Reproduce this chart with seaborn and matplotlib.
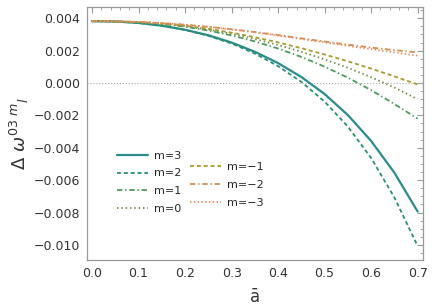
import numpy as np
import pandas as pd
import seaborn as sns
import matplotlib.pyplot as plt
from matplotlib.lines import Line2D
from matplotlib.ticker import MultipleLocator

sns.set_style("white")
plt.rcParams['font.family'] = ['DejaVu Sans']
plt.rcParams['mathtext.fontset'] = 'dejavusans'

# spin parameter a-bar
a_bar = [0.0, 0.05, 0.10, 0.15, 0.20, 0.25, 0.30, 0.35, 0.40, 0.45, 0.50, 0.55, 0.60, 0.65, 0.70]

# Delta omega values (x 1e-3)
dw_m3 = [3.82, 3.80, 3.71, 3.54, 3.29, 2.95, 2.50, 1.93, 1.23, 0.37, -0.68, -1.98, -3.58, -5.54, -7.94]
dw_m2 = [3.82, 3.80, 3.71, 3.54, 3.28, 2.92, 2.44, 1.82, 1.04, 0.07, -1.15, -2.69, -4.63, -7.07, -10.07]
dw_m1 = [3.82, 3.81, 3.76, 3.65, 3.48, 3.24, 2.94, 2.57, 2.13, 1.61, 1.01, 0.33, -0.44, -1.30, -2.20]
dw_m0 = [3.82, 3.81, 3.76, 3.66, 3.51, 3.30, 3.04, 2.72, 2.35, 1.93, 1.46, 0.94, 0.36, -0.28, -1.00]
dw_mm1 = [3.82, 3.81, 3.77, 3.68, 3.54, 3.35, 3.11, 2.83, 2.51, 2.15, 1.76, 1.34, 0.89, 0.41, -0.09]
dw_mm2 = [3.82, 3.81, 3.77, 3.70, 3.60, 3.47, 3.32, 3.15, 2.96, 2.76, 2.56, 2.37, 2.19, 2.03, 1.89]
dw_mm3 = [3.82, 3.81, 3.77, 3.70, 3.60, 3.47, 3.31, 3.13, 2.93, 2.72, 2.51, 2.30, 2.09, 1.89, 1.69]

labels = ["m=3", "m=2", "m=1", "m=0", "m=\u22121", "m=\u22122", "m=\u22123"]
series = [dw_m3, dw_m2, dw_m1, dw_m0, dw_mm1, dw_mm2, dw_mm3]

colors = ["#2b8c8c", "#2a8f72", "#4e9b62", "#6a8c3e", "#a89c30", "#cf9150", "#ee8c6a"]
dashes = ["", (2.2, 1.6), (3, 1.5, 0.8, 1.5), (0.8, 1.6), (2.2, 1.6), (3, 1.5, 0.8, 1.5), (0.8, 1.3)]

rows = []
for lab, vals in zip(labels, series):
    for a, v in zip(a_bar, vals):
        rows.append({"a": a, "dw": v * 1e-3, "m": lab})
df = pd.DataFrame(rows)

fig = plt.figure(figsize=(4.36, 3.08), dpi=100)
ax = fig.add_axes([0.1995, 0.156, 0.771, 0.821])

ax.axhline(0, color="#aaaaaa", lw=0.8, ls=":", zorder=1)

sns.lineplot(data=df, x="a", y="dw", hue="m", style="m", hue_order=labels,
             style_order=labels, palette=colors, dashes=dashes, linewidth=1.3,
             legend=False, ax=ax)
ax.get_lines()[1].set_linewidth(1.6)

ax.set_xlim(-0.0108, 0.7118)
ax.set_ylim(-0.01093, 0.00469)
ax.xaxis.set_major_locator(MultipleLocator(0.1))
ax.xaxis.set_minor_locator(MultipleLocator(0.02))
ax.yaxis.set_major_locator(MultipleLocator(0.002))
ax.yaxis.set_minor_locator(MultipleLocator(0.0005))
ax.xaxis.set_major_formatter(lambda v, p: f"{v:.1f}")
ax.yaxis.set_major_formatter(lambda v, p: f"{v:.3f}".replace("-", "\u2212") if abs(v) > 1e-9 else "0.000")

ax.tick_params(which="both", direction="in", top=True, right=True, color="#999999",
               labelsize=9, labelcolor="#333333", pad=5)
ax.tick_params(which="major", length=4, width=0.8)
ax.tick_params(which="minor", length=2.5, width=0.6)
for s in ax.spines.values():
    s.set_color("#999999")
    s.set_linewidth(0.9)

ax.set_xlabel("\u0101", fontsize=12, color="#333333", labelpad=6)
ax.set_ylabel(r"$\Delta\ \omega^{03\ m}{}_{l}$", fontsize=13, color="#333333", labelpad=2)

handles = [Line2D([], [], color=c, lw=1.3, dashes=d) for c, d in zip(colors[1:], dashes[1:])]
handles.insert(0, Line2D([], [], color=colors[0], lw=1.6))

leg1 = ax.legend(handles[:4], labels[:4], loc="upper left", bbox_to_anchor=(0.089, 0.432),
                 frameon=False, fontsize=8, handlelength=2.8, handletextpad=0.5,
                 labelspacing=0.7, borderpad=0, borderaxespad=0)
ax.add_artist(leg1)
ax.legend(handles[4:], labels[4:], loc="upper left", bbox_to_anchor=(0.307, 0.387),
          frameon=False, fontsize=8, handlelength=2.8, handletextpad=0.5,
          labelspacing=0.7, borderpad=0, borderaxespad=0)

fig.savefig("out.png", dpi=100)
